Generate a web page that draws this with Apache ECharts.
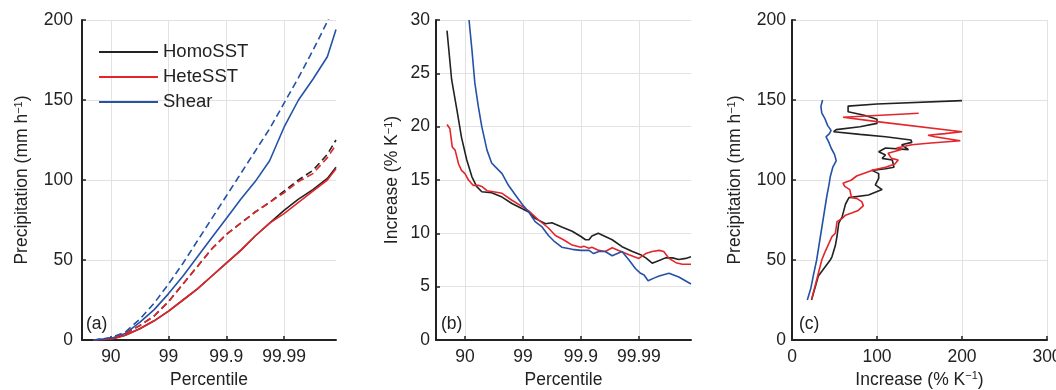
<!DOCTYPE html>
<html>
<head>
<meta charset="utf-8">
<script src="https://cdn.jsdelivr.net/npm/echarts@6/dist/echarts.min.js"></script>
<style>
  html, body {margin: 0; padding: 0; background: #fff;}
  #chart {width: 1056px; height: 390px;}
</style>
</head>
<body>
<div id="chart"></div>
<script>
// percentile axis is -log10(1 - p): 1 = 90, 2 = 99, 3 = 99.9, 4 = 99.99
const pctTicks = [1, 2, 3, 4];
const pctLabels = ['90', '99', '99.9', '99.99'];
const names = ['HomoSST', 'HeteSST', 'Shear'];
const colors = ['#222222', '#e3262b', '#2452a6'];

// (a) precipitation at each percentile, solid = control, dashed = warmed
const pctA = [0.7, 1.0, 1.25, 1.5, 1.75, 2.0, 2.25, 2.5, 2.75, 3.0, 3.25, 3.5, 3.75, 4.0, 4.25, 4.5, 4.75, 4.9];
const homoPr = [0, 0.5, 3, 7, 12, 18, 25, 32, 40, 48, 56, 65, 73, 81, 88, 94, 101, 108];
const hetePr = [0, 0.5, 3, 7, 12, 18, 25, 32, 40, 48, 56, 65, 73, 79, 86, 93, 100, 107];
const shearPr = [0, 1, 4, 11, 19, 29, 40, 52, 64, 76, 88, 99, 112, 133, 150, 163, 177, 194];
const homoPrW = [0, 0.8, 4, 9, 15, 24, 35, 46, 57, 66, 73, 80, 86, 93, 100, 106, 116, 125];
const hetePrW = [0, 0.8, 4, 9, 15, 24, 35, 46, 57, 66, 73, 80, 86, 92, 99, 104, 114, 122];
const shearPrW = [0, 1.5, 5, 13, 23, 35, 48, 62, 76, 90, 104, 118, 132, 148, 164, 181, 199, 211];

// (b) increase rate against percentile
const homoPctB = [0.69, 0.77, 0.86, 0.94, 1.03, 1.12, 1.2, 1.29, 1.46, 1.64, 1.81, 1.99, 2.1, 2.21, 2.39, 2.5, 2.67, 2.85, 3.0, 3.08, 3.14, 3.19, 3.3, 3.42, 3.54, 3.71, 3.89, 4.03, 4.12, 4.23, 4.35, 4.46, 4.58, 4.69, 4.81, 4.9];
const homoIncB = [29, 24.4, 21.6, 19, 16.9, 15.3, 14.4, 13.9, 13.8, 13.4, 12.8, 12.3, 12.0, 11.4, 10.9, 11.0, 10.6, 10.2, 9.7, 9.4, 9.4, 9.75, 10.0, 9.7, 9.4, 8.75, 8.3, 8.0, 7.7, 7.2, 7.45, 7.7, 7.7, 7.55, 7.65, 7.8];
const hetePctB = [0.69, 0.74, 0.78, 0.83, 0.89, 0.94, 1.0, 1.06, 1.14, 1.23, 1.29, 1.38, 1.49, 1.64, 1.81, 1.99, 2.1, 2.27, 2.44, 2.56, 2.7, 2.85, 3.0, 3.05, 3.14, 3.19, 3.31, 3.42, 3.54, 3.65, 3.83, 4.0, 4.12, 4.23, 4.35, 4.43, 4.52, 4.64, 4.75, 4.9];
const heteIncB = [20.2, 19.8, 18.1, 17.8, 16.5, 15.9, 15.6, 15.0, 14.5, 14.5, 14.4, 14.0, 13.9, 13.75, 13.1, 12.5, 12.1, 11.25, 10.5, 9.8, 9.4, 8.9, 8.7, 8.8, 8.6, 8.7, 8.4, 8.3, 8.65, 8.4, 8.0, 7.65, 8.1, 8.3, 8.4, 8.3, 7.65, 7.25, 7.1, 7.1];
const shearPctB = [1.07, 1.12, 1.17, 1.23, 1.29, 1.38, 1.46, 1.52, 1.64, 1.75, 1.87, 1.99, 2.1, 2.21, 2.33, 2.44, 2.53, 2.67, 2.85, 3.0, 3.14, 3.22, 3.31, 3.42, 3.54, 3.71, 3.83, 3.94, 4.03, 4.09, 4.16, 4.26, 4.35, 4.52, 4.69, 4.9];
const shearIncB = [30, 27.2, 24.1, 21.9, 20, 17.8, 16.6, 16.25, 15.6, 14.5, 13.6, 12.7, 12.0, 11.1, 10.6, 9.8, 9.3, 8.7, 8.5, 8.4, 8.4, 8.1, 8.3, 8.3, 7.9, 8.3, 7.5, 6.7, 6.25, 6.1, 5.55, 5.8, 6.0, 6.25, 5.9, 5.25];

// (c) increase rate against precipitation
const homoIncC = [23, 31, 45, 47, 51, 53, 55, 59, 61, 63, 67, 90, 106, 98, 102, 102, 94, 110, 120, 118, 106, 110, 102, 110, 137, 129, 141, 140, 110, 80, 49, 52, 80, 100, 100, 85, 66, 66, 100, 200];
const homoPrC = [25, 40, 50, 52, 59, 65, 73, 77, 81, 85, 89, 90.6, 94, 97, 101, 104, 106, 107, 108, 112.5, 113.5, 115.6, 117.7, 120, 119, 122, 123.5, 125, 127, 128.5, 130.2, 131.5, 133.3, 135.4, 137.9, 140.5, 142.7, 146.2, 147.5, 149.6];
const heteIncC = [23, 29, 35, 38, 47, 51, 53, 59, 63, 78, 84, 82, 76, 70, 68, 62, 60, 70, 76, 94, 110, 121, 125, 117, 113, 129, 123, 141, 160, 198, 168, 160, 180, 200, 100, 60, 149];
const hetePrC = [25.4, 37.5, 50, 54, 64.6, 66.7, 74, 76, 78, 81, 84, 86.5, 88.5, 89, 94, 96, 98, 100, 102.5, 106, 108, 110, 112.5, 113.5, 116.7, 119, 120, 122, 123, 124.5, 127, 128, 129, 130.2, 136.5, 139.2, 141.7];
const shearIncC = [18, 22, 25, 29, 32, 35, 38, 41, 43.5, 45, 48, 52, 50, 46, 43, 40, 44, 46, 42, 39, 35, 34, 36];
const shearPrC = [25, 32, 40, 50, 60, 70, 80, 90, 97, 102, 108, 112, 116, 120, 124, 127, 129, 131, 134, 138, 142, 146, 150];

const font = 'Liberation Sans, Arial, sans-serif';
const ink = '#222';
const pairs = (xs, ys) => xs.map((x, i) => [x, ys[i]]);

const nameRich = {sup: {fontSize: 11, fontFamily: font, color: ink, verticalAlign: 'top', padding: [0, 0, 7, 0]}};

function axis(extra) {
  return Object.assign({
    type: 'value',
    axisLine: {show: true, onZero: false, lineStyle: {color: ink, width: 2}},
    axisTick: {show: true, inside: true, length: 4, lineStyle: {color: ink, width: 1.5}},
    axisLabel: {color: ink, fontSize: 17.5, fontFamily: font},
    splitLine: {show: true, lineStyle: {color: '#e2e2e2', width: 1}},
    nameLocation: 'middle',
    nameTextStyle: {color: ink, fontSize: 17.5, fontFamily: font, rich: nameRich}
  }, extra);
}

function pctAxis(gridIndex, nameGap) {
  const a = axis({gridIndex, min: 0.5, max: 4.9, name: 'Percentile', nameGap});
  a.axisTick = Object.assign({}, a.axisTick, {customValues: pctTicks});
  a.axisLabel = Object.assign({}, a.axisLabel, {
    customValues: pctTicks, margin: 8,
    formatter: v => pctLabels[pctTicks.indexOf(v)]
  });
  return a;
}

function line(name, xi, data, color, dashed) {
  return {
    type: 'line', name, xAxisIndex: xi, yAxisIndex: xi, data,
    symbol: 'none', color, z: 2,
    lineStyle: {color, width: 1.6, type: dashed ? [7, 4] : 'solid'},
    emphasis: {disabled: true}
  };
}

const chart = echarts.init(document.getElementById('chart'));
chart.setOption({
  animation: false,
  backgroundColor: '#fff',
  grid: [
    {left: 82, top: 20, width: 254, height: 320, outerBoundsMode: 'none'},
    {left: 436, top: 20, width: 255, height: 320, outerBoundsMode: 'none'},
    {left: 792, top: 20, width: 255, height: 320, outerBoundsMode: 'none'}
  ],
  title: [
    {text: '(a)', left: 86, top: 315, padding: 0, textStyle: {fontSize: 17.5, fontWeight: 'normal', color: ink, fontFamily: font}},
    {text: '(b)', left: 441, top: 315, padding: 0, textStyle: {fontSize: 17.5, fontWeight: 'normal', color: ink, fontFamily: font}},
    {text: '(c)', left: 799, top: 315, padding: 0, textStyle: {fontSize: 17.5, fontWeight: 'normal', color: ink, fontFamily: font}}
  ],
  legend: {
    data: names, orient: 'vertical', left: 99, top: 42, padding: 0,
    itemWidth: 59, itemHeight: 2, itemGap: 5, icon: 'rect', selectedMode: false,
    textStyle: {fontSize: 18.5, color: ink, fontFamily: font, lineHeight: 20}
  },
  xAxis: [
    pctAxis(0, 29),
    pctAxis(1, 31),
    axis({gridIndex: 2, min: 0, max: 300, interval: 100, nameGap: 27,
      name: 'Increase (% K{sup|−1})', axisLabel: {color: ink, fontSize: 17.5, fontFamily: font, margin: 8}})
  ],
  yAxis: [
    axis({gridIndex: 0, min: 0, max: 200, interval: 50, nameGap: 51,
      name: 'Precipitation (mm h{sup|−1})', axisLabel: {color: ink, fontSize: 17.5, fontFamily: font, margin: 9}}),
    axis({gridIndex: 1, min: 0, max: 30, interval: 5, nameGap: 35,
      name: 'Increase (% K{sup|−1})', axisLabel: {color: ink, fontSize: 17.5, fontFamily: font, margin: 6}}),
    axis({gridIndex: 2, min: 0, max: 200, interval: 50, nameGap: 48,
      name: 'Precipitation (mm h{sup|−1})', axisLabel: {color: ink, fontSize: 17.5, fontFamily: font, margin: 6}})
  ],
  series: [
    line('HomoSST', 0, pairs(pctA, homoPr), colors[0], false),
    line('HeteSST', 0, pairs(pctA, hetePr), colors[1], false),
    line('Shear', 0, pairs(pctA, shearPr), colors[2], false),
    line('HomoSST warm', 0, pairs(pctA, homoPrW), colors[0], true),
    line('HeteSST warm', 0, pairs(pctA, hetePrW), colors[1], true),
    line('Shear warm', 0, pairs(pctA, shearPrW), colors[2], true),
    line('HomoSST', 1, pairs(homoPctB, homoIncB), colors[0], false),
    line('HeteSST', 1, pairs(hetePctB, heteIncB), colors[1], false),
    line('Shear', 1, pairs(shearPctB, shearIncB), colors[2], false),
    line('HomoSST', 2, pairs(homoIncC, homoPrC), colors[0], false),
    line('HeteSST', 2, pairs(heteIncC, hetePrC), colors[1], false),
    line('Shear', 2, pairs(shearIncC, shearPrC), colors[2], false)
  ]
});
</script>
</body>
</html>
